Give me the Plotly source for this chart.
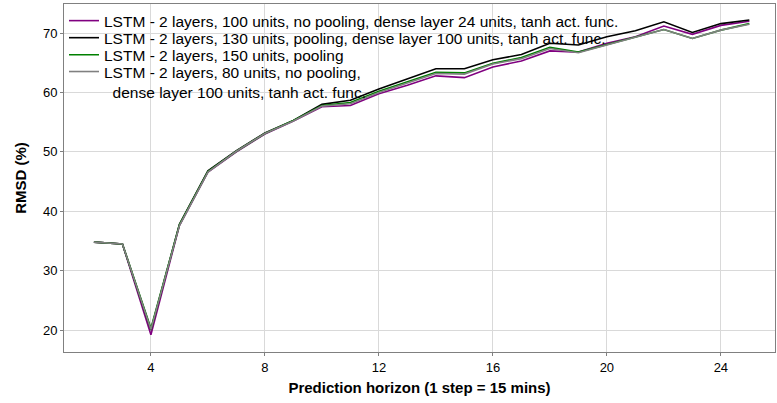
import plotly.graph_objects as go

steps = list(range(2, 26))

lstm_100_nopool = [34.8, 34.5, 19.2, 37.6, 46.6, 50.0, 53.0, 55.2, 57.6, 57.8, 59.8, 61.2,
                   62.8, 62.5, 64.3, 65.3, 67.0, 66.8, 68.3, 69.4, 71.2, 69.8, 71.3, 72.0]
lstm_130_pool = [34.8, 34.5, 20.0, 37.8, 46.8, 50.2, 53.2, 55.3, 58.0, 58.7, 60.6, 62.3,
                 64.0, 64.0, 65.5, 66.4, 68.3, 68.0, 69.4, 70.4, 71.9, 70.1, 71.6, 72.2]
lstm_150_pool = [34.8, 34.5, 20.3, 37.7, 46.7, 50.1, 53.1, 55.3, 57.8, 58.3, 60.2, 61.8,
                 63.4, 63.3, 64.9, 65.9, 67.6, 66.8, 68.1, 69.3, 70.6, 69.1, 70.5, 71.6]
lstm_80_nopool = [34.8, 34.5, 20.1, 37.6, 46.6, 50.1, 53.1, 55.2, 57.7, 58.1, 60.0, 61.6,
                  63.2, 63.1, 64.8, 65.7, 67.4, 66.7, 68.0, 69.2, 70.6, 69.1, 70.5, 71.5]

names = [
    "LSTM - 2 layers, 100 units, no pooling, dense layer 24 units, tanh act. func.",
    "LSTM - 2 layers, 130 units, pooling, dense layer 100 units, tanh act. func.",
    "LSTM - 2 layers, 150 units, pooling",
    "LSTM - 2 layers, 80 units, no pooling,<br>&nbsp;&nbsp;dense layer 100 units, tanh act. func.",
]
series = [lstm_100_nopool, lstm_130_pool, lstm_150_pool, lstm_80_nopool]
colors = ["#800080", "#000000", "#008000", "#808080"]
legend_ids = ["legend", "legend2", "legend3", "legend4"]
legend_y = [0.951, 0.902, 0.853, 0.776]

# each trace gets its own legend box so the rows can sit tight like the original
fig = go.Figure()
for name, vals, col, lg in zip(names, series, colors, legend_ids):
    fig.add_trace(go.Scatter(x=steps, y=vals, mode="lines", name=name, legend=lg,
                             showlegend=True, line=dict(color=col, width=1.6)))

axis_style = dict(showline=True, linecolor="#808080", linewidth=1, mirror=True,
                  showgrid=True, gridcolor="#d9d9d9", gridwidth=1, zeroline=False,
                  ticks="outside", ticklen=3, tickcolor="#808080", automargin=False,
                  tickfont=dict(size=13, color="#000000"))

fig.update_xaxes(range=[0.95, 25.9], tickvals=[4, 8, 12, 16, 20, 24],
                 title=dict(text="<b>Prediction horizon (1 step = 15 mins)</b>",
                            font=dict(size=15, color="#000000"), standoff=8),
                 **axis_style)
fig.update_yaxes(range=[16.3, 74.9], tickvals=[20, 30, 40, 50, 60, 70],
                 title=dict(text="<b>RMSD (%)</b>", font=dict(size=15, color="#000000"),
                            standoff=12),
                 **axis_style)

legend_style = dict(x=0.0, xanchor="left", yanchor="middle", bgcolor="rgba(0,0,0,0)",
                    font=dict(size=15.5), valign="top", visible=True)
layout_legends = {lg: dict(y=yy, **legend_style) for lg, yy in zip(legend_ids, legend_y)}

fig.update_layout(
    width=777, height=403,
    margin=dict(l=64, r=2, t=4, b=51),
    plot_bgcolor="white", paper_bgcolor="white",
    showlegend=True,
    font=dict(family="Liberation Sans, Arial, sans-serif", color="#000000"),
    **layout_legends,
)

fig.write_html("out.html", config={"displayModeBar": False},
               post_script="document.body.style.margin='0';")
